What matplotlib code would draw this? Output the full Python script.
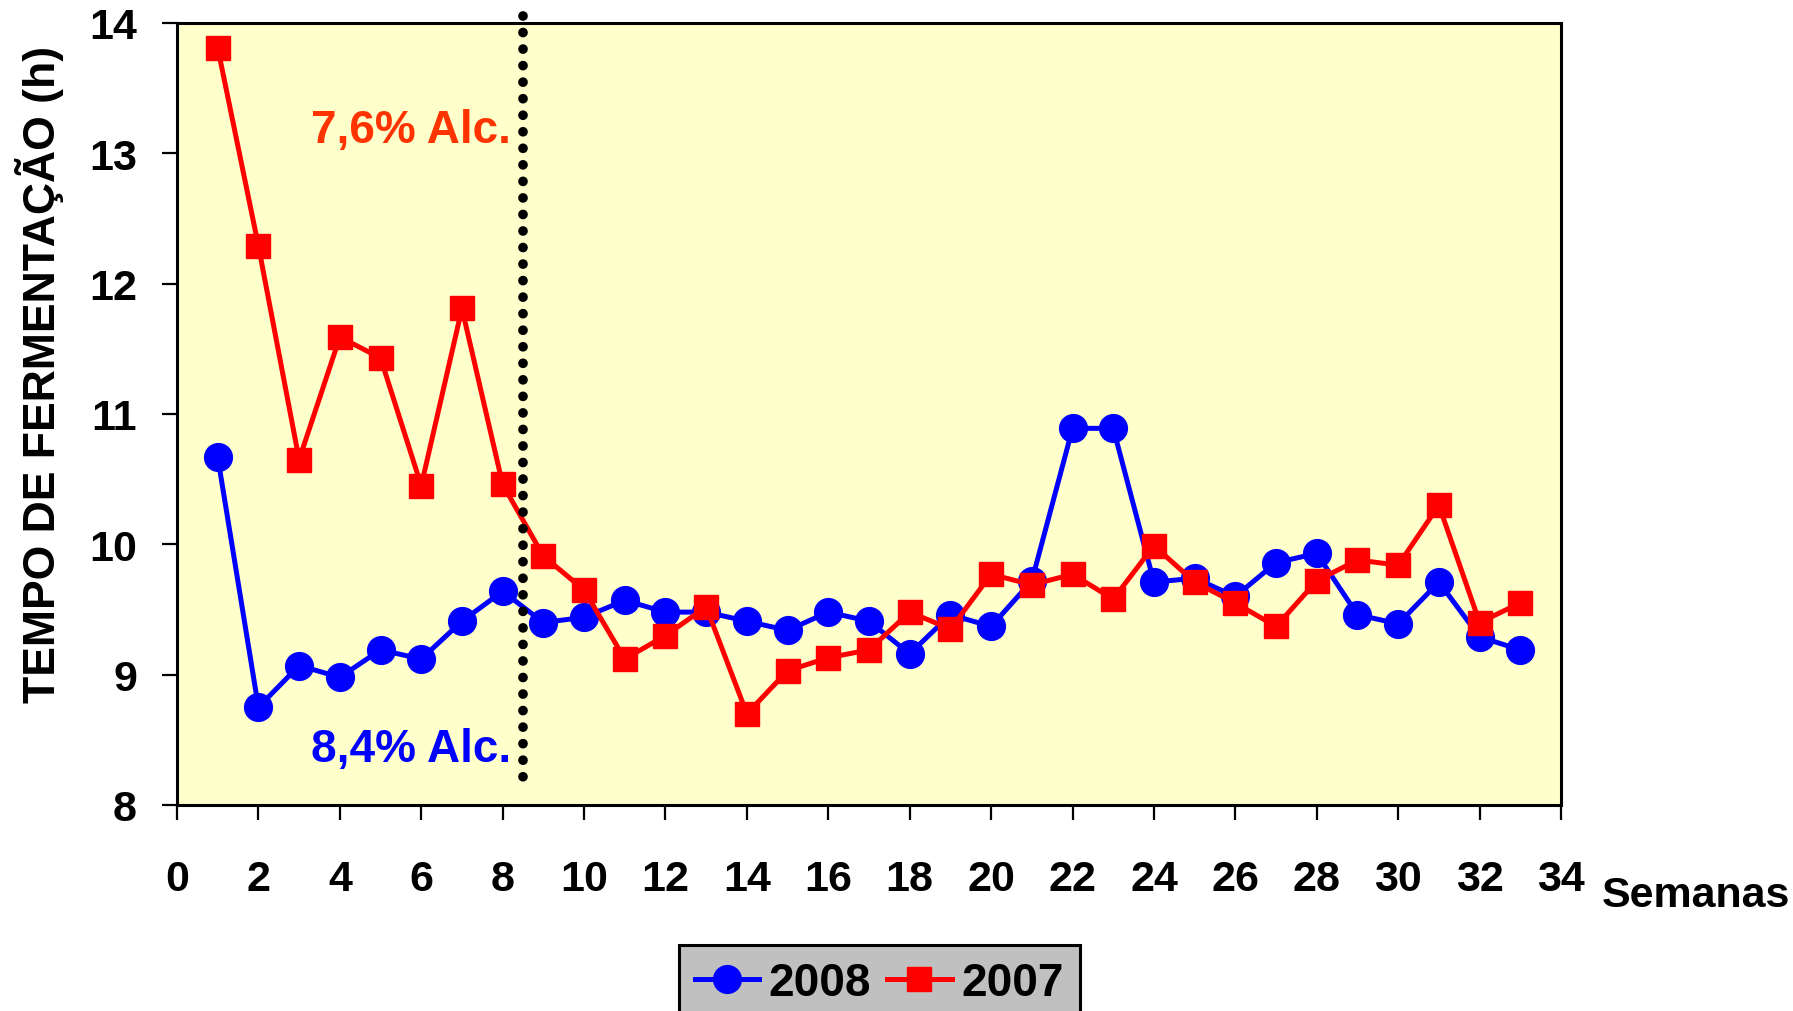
import matplotlib
matplotlib.use("Agg")
import matplotlib.pyplot as plt

# Fermentation time per week, two seasons
semanas = list(range(1, 34))
tempo_2008 = [10.67, 8.75, 9.07, 8.98, 9.19, 9.12, 9.41, 9.64, 9.40, 9.44,
              9.57, 9.48, 9.48, 9.41, 9.34, 9.48, 9.41, 9.16, 9.46, 9.37,
              9.72, 10.89, 10.89, 9.71, 9.74, 9.60, 9.86, 9.93, 9.46, 9.39,
              9.71, 9.29, 9.19]
tempo_2007 = [13.81, 12.29, 10.65, 11.59, 11.43, 10.45, 11.81, 10.46, 9.91, 9.65,
              9.12, 9.30, 9.52, 8.70, 9.03, 9.13, 9.19, 9.48, 9.35, 9.77,
              9.69, 9.77, 9.58, 9.99, 9.71, 9.55, 9.37, 9.72, 9.88, 9.84,
              10.30, 9.40, 9.55]
x_ticks = list(range(0, 35, 2))
y_ticks = list(range(8, 15))
corte = 8.5

plt.rcParams['font.family'] = ['Liberation Sans', 'DejaVu Sans']
plt.rcParams['font.weight'] = 'bold'

fig = plt.figure(figsize=(17.93, 10.12), dpi=100)
ax = fig.add_axes([177 / 1793, 1 - 806 / 1012, (1561 - 177) / 1793, (806 - 24) / 1012])
ax.set_facecolor('#FFFFCC')

l1, = ax.plot(semanas, tempo_2008, color='#0000FF', lw=3.6, marker='o', ms=20,
              label='2008', zorder=3)
l2, = ax.plot(semanas, tempo_2007, color='#FF0000', lw=3.6, marker='s', ms=17,
              label='2007', zorder=4)

# vertical dotted separator between the two alcohol levels
ax.plot([corte, corte], [14.05, 8.115], color='black', lw=7,
        dashes=(0.001, 1.7), dash_capstyle='round', zorder=6, clip_on=False)

ax.text(8.2, 13.09, '7,6% Alc.', color='#FF3300', fontsize=33,
        fontweight='bold', ha='right', va='baseline', zorder=7)
ax.text(8.2, 8.337, '8,4% Alc.', color='#0000FF', fontsize=33,
        fontweight='bold', ha='right', va='baseline', zorder=7)

ax.set_xlim(0, 34)
ax.set_ylim(8, 14)
ax.set_xticks(x_ticks)
ax.set_yticks(y_ticks)
ax.tick_params(axis='both', direction='out', length=10.8, width=1.6,
               labelsize=31)
ax.tick_params(axis='x', pad=28)
ax.tick_params(axis='y', pad=18)
for lab in ax.get_xticklabels() + ax.get_yticklabels():
    lab.set_fontweight('bold')
for sp in ax.spines.values():
    sp.set_color('black')
    sp.set_linewidth(2.2)

fig.text(40 / 1793, 1 - 374 / 1012, 'TEMPO DE FERMENTAÇÃO (h)', rotation=90,
         fontsize=32, fontweight='bold', ha='center', va='center')
fig.text(1602 / 1793, 1 - 907 / 1012, 'Semanas', fontsize=31,
         fontweight='bold', ha='left', va='baseline')

leg = fig.legend(handles=[l1, l2], loc='upper left', ncol=2,
                 bbox_to_anchor=(679 / 1793, 1 - 946 / 1012),
                 bbox_transform=fig.transFigure, borderaxespad=0,
                 numpoints=1, handlelength=1.4,
                 handletextpad=0.22, columnspacing=0.35, borderpad=0.34,
                 fancybox=False, framealpha=1, facecolor='#C0C0C0',
                 edgecolor='black', prop={'weight': 'bold', 'size': 33})
leg.get_frame().set_linewidth(2.2)

fig.savefig('out.png', dpi=100)
